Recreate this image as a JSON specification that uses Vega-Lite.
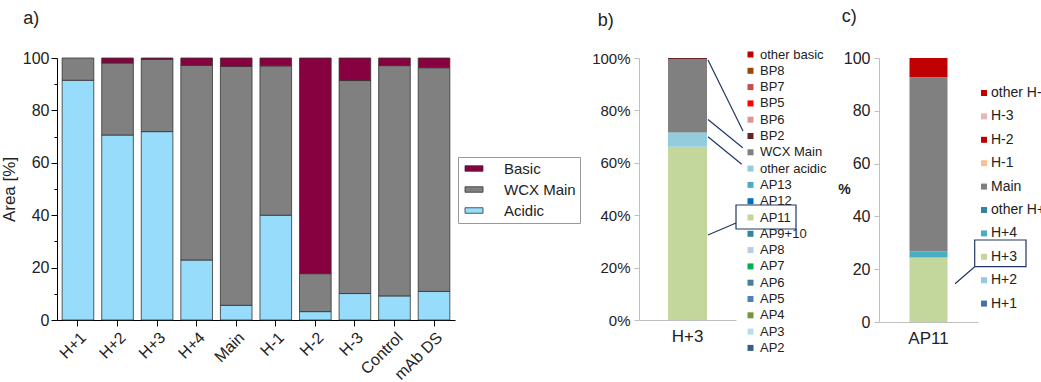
{
  "$schema": "https://vega.github.io/schema/vega-lite/v6.json",
  "padding": {"left": 0, "top": 3, "right": 0, "bottom": 0},
  "config": {
    "font": "Liberation Sans",
    "view": {"stroke": null},
    "axis": {"labelColor": "#222", "titleColor": "#222", "grid": false},
    "legend": {"labelColor": "#222"}
  },
  "datasets": {
    "a": [
      {"sample": "H+1", "component": "Acidic", "value": 91.5, "k": 1},
      {"sample": "H+1", "component": "WCX Main", "value": 8.5, "k": 2},
      {"sample": "H+2", "component": "Acidic", "value": 70.6, "k": 1},
      {"sample": "H+2", "component": "WCX Main", "value": 27.5, "k": 2},
      {"sample": "H+2", "component": "Basic", "value": 1.9, "k": 3},
      {"sample": "H+3", "component": "Acidic", "value": 71.9, "k": 1},
      {"sample": "H+3", "component": "WCX Main", "value": 27.6, "k": 2},
      {"sample": "H+3", "component": "Basic", "value": 0.5, "k": 3},
      {"sample": "H+4", "component": "Acidic", "value": 22.9, "k": 1},
      {"sample": "H+4", "component": "WCX Main", "value": 74.3, "k": 2},
      {"sample": "H+4", "component": "Basic", "value": 2.8, "k": 3},
      {"sample": "Main", "component": "Acidic", "value": 5.6, "k": 1},
      {"sample": "Main", "component": "WCX Main", "value": 91.2, "k": 2},
      {"sample": "Main", "component": "Basic", "value": 3.2, "k": 3},
      {"sample": "H-1", "component": "Acidic", "value": 40.0, "k": 1},
      {"sample": "H-1", "component": "WCX Main", "value": 57.0, "k": 2},
      {"sample": "H-1", "component": "Basic", "value": 3.0, "k": 3},
      {"sample": "H-2", "component": "Acidic", "value": 3.2, "k": 1},
      {"sample": "H-2", "component": "WCX Main", "value": 14.5, "k": 2},
      {"sample": "H-2", "component": "Basic", "value": 82.3, "k": 3},
      {"sample": "H-3", "component": "Acidic", "value": 10.1, "k": 1},
      {"sample": "H-3", "component": "WCX Main", "value": 81.3, "k": 2},
      {"sample": "H-3", "component": "Basic", "value": 8.6, "k": 3},
      {"sample": "Control", "component": "Acidic", "value": 9.2, "k": 1},
      {"sample": "Control", "component": "WCX Main", "value": 87.9, "k": 2},
      {"sample": "Control", "component": "Basic", "value": 2.9, "k": 3},
      {"sample": "mAb DS", "component": "Acidic", "value": 10.9, "k": 1},
      {"sample": "mAb DS", "component": "WCX Main", "value": 85.4, "k": 2},
      {"sample": "mAb DS", "component": "Basic", "value": 3.7, "k": 3}
    ],
    "b": [
      {"sample": "H+3", "component": "AP8", "value": 0.4, "k": 7},
      {"sample": "H+3", "component": "AP11", "value": 65.7, "k": 9},
      {"sample": "H+3", "component": "other acidic", "value": 5.5, "k": 12},
      {"sample": "H+3", "component": "WCX Main", "value": 28.0, "k": 13},
      {"sample": "H+3", "component": "BP2", "value": 0.4, "k": 14}
    ],
    "c": [
      {"sample": "AP11", "component": "H+3", "value": 24.4, "k": 3},
      {"sample": "AP11", "component": "H+4", "value": 2.3, "k": 4},
      {"sample": "AP11", "component": "Main", "value": 66.0, "k": 6},
      {"sample": "AP11", "component": "H-2", "value": 7.3, "k": 8}
    ]
  },
  "bounds": "flush",
  "spacing": 184,
  "resolve": {"scale": {"color": "independent", "y": "independent", "x": "independent", "shape": "independent"}, "legend": {"color": "independent", "shape": "independent"}},
  "hconcat": [
    {
      "title": {"text": "a)", "anchor": "start", "fontSize": 18, "fontWeight": "normal", "color": "#222", "dx": 23, "offset": 22},
      "width": 398,
      "height": 262,
      "data": {"name": "a"},
      "layer": [
        {
          "mark": {"type": "bar", "stroke": "#333", "strokeWidth": 0.8},
          "encoding": {
            "x": {
              "field": "sample", "type": "nominal",
              "sort": ["H+1", "H+2", "H+3", "H+4", "Main", "H-1", "H-2", "H-3", "Control", "mAb DS"],
              "scale": {"paddingInner": 0.2, "paddingOuter": 0.13},
              "axis": {"title": null, "labelAngle": -45, "labelFontSize": 16, "domainColor": "#000", "tickColor": "#000", "tickSize": 6, "labelPadding": 3}
            },
            "y": {
              "field": "value", "type": "quantitative", "stack": "zero",
              "scale": {"domain": [0, 100], "nice": false},
              "axis": {"title": "Area [%]", "values": [0, 20, 40, 60, 80, 100], "titleFontSize": 17, "titleFontWeight": "normal", "labelFontSize": 16, "domainColor": "#000", "tickColor": "#000", "tickSize": 6, "labelPadding": 2, "titlePadding": 4}
            },
            "color": {
              "field": "component", "type": "nominal",
              "scale": {"domain": ["Basic", "WCX Main", "Acidic"], "range": ["#870040", "#808080", "#97DDFB"]},
              "legend": {
                "title": null, "orient": "none", "legendX": 401, "legendY": 99,
                "symbolType": "M-0.75,-0.46H2.25V0.46H-0.75Z", "symbolSize": 144,
                "symbolStrokeColor": "#333", "symbolStrokeWidth": 0.8,
                "labelFontSize": 15, "labelOffset": 27, "rowPadding": 5,
                "padding": 4, "strokeColor": "#999"
              }
            },
            "order": {"field": "k"}
          }
        },
        {
          "mark": {"type": "tick", "opacity": 0},
          "encoding": {
            "y": {
              "field": "value", "type": "quantitative",
              "axis": {"orient": "left", "values": [10, 30, 50, 70, 90], "labels": false, "domain": false, "title": null, "tickColor": "#000", "tickSize": 3}
            }
          }
        }
      ],
      "resolve": {"axis": {"y": "independent"}}
    },
    {
      "bounds": "flush",
      "spacing": 143,
      "resolve": {"scale": {"color": "independent", "y": "independent", "x": "independent", "shape": "independent"}, "legend": {"color": "independent", "shape": "independent"}},
      "hconcat": [
        {
          "title": {"text": "b)", "anchor": "start", "fontSize": 18, "fontWeight": "normal", "color": "#222", "dx": 6, "offset": -26},
          "width": 97,
          "height": 262,
          "data": {"name": "b"},
          "layer": [
            {
              "mark": {"type": "bar", "width": 39},
              "encoding": {
                "x": {"field": "sample", "type": "nominal", "axis": {"title": null, "labelAngle": 0, "labelFontSize": 17, "domainColor": "#BFBFBF", "ticks": false, "labelPadding": 8}},
                "y": {
                  "field": "value", "type": "quantitative", "stack": "zero",
                  "scale": {"domain": [0, 100], "nice": false},
                  "axis": {"title": null, "values": [0, 20, 40, 60, 80, 100], "labelExpr": "datum.value + '%'", "labelFontSize": 15, "domainColor": "#BFBFBF", "tickColor": "#BFBFBF", "tickSize": 5, "labelPadding": 4}
                },
                "color": {
                  "field": "component", "type": "nominal",
                  "scale": {
                    "domain": ["other basic", "BP8", "BP7", "BP5", "BP6", "BP2", "WCX Main", "other acidic", "AP13", "AP12", "AP11", "AP9+10", "AP8", "AP7", "AP6", "AP5", "AP4", "AP3", "AP2"],
                    "range": ["#C00000", "#984807", "#C0504D", "#FF0000", "#D99694", "#632523", "#808080", "#93CDDD", "#4BACC6", "#0070C0", "#C3D69B", "#31859C", "#B9CDE5", "#00B050", "#4A7D99", "#4F81BD", "#77933C", "#B7DEE8", "#355C8E"]
                  },
                  "legend": {
                    "title": null, "orient": "none", "legendX": 105, "legendY": -10,
                    "symbolType": "square", "symbolSize": 36, "symbolStrokeWidth": 0,
                    "labelFontSize": 13, "labelOffset": 3, "rowPadding": 2.3, "padding": 0
                  }
                },
                "order": {"field": "k"}
              }
            },
            {
              "transform": [{"filter": "datum.component === 'AP11'"}],
              "mark": {"type": "point", "opacity": 0, "filled": false},
              "encoding": {
                "x": {"field": "sample", "type": "nominal"},
                "y": {"field": "value", "type": "quantitative"},
                "shape": {
                  "field": "sample", "type": "nominal",
                  "scale": {"range": ["M-4,-4.34H16V3.66H-4Z M-13.34,5.66L-4,1.66L-13.34,5.66Z M-13.34,-52.66L-1.66,-29L-13.34,-52.66Z M-13.34,-32.84L-1.76,-23.44L-13.34,-32.84Z M-13.34,-27.06L-2.1,-17.9L-13.34,-27.06Z"]},
                  "legend": {
                    "title": null, "orient": "none", "legendX": 105, "legendY": 156,
                    "symbolSize": 36, "symbolFillColor": "transparent", "symbolStrokeColor": "#1F3864", "symbolStrokeWidth": 1.2, "symbolOpacity": 1,
                    "labelExpr": "''", "labelFontSize": 1, "padding": 0
                  }
                }
              }
            }
          ]
        },
        {
          "title": {"text": "c)", "anchor": "start", "fontSize": 18, "fontWeight": "normal", "color": "#222", "dx": 4, "offset": 24},
          "width": 99,
          "height": 264,
          "data": {"name": "c"},
          "layer": [
            {
              "mark": {"type": "bar", "width": 38},
              "encoding": {
                "x": {"field": "sample", "type": "nominal", "axis": {"title": null, "labelAngle": 0, "labelFontSize": 17, "domainColor": "#BFBFBF", "ticks": false, "labelPadding": 8}},
                "y": {
                  "field": "value", "type": "quantitative", "stack": "zero",
                  "scale": {"domain": [0, 100], "nice": false},
                  "axis": {"title": "%", "titleAngle": 0, "titleX": -35, "titleY": 131, "titleAlign": "center", "titleBaseline": "middle", "titleFontSize": 14, "titleFontWeight": "bold", "values": [0, 20, 40, 60, 80, 100], "labelFontSize": 16, "domainColor": "#BFBFBF", "tickColor": "#BFBFBF", "tickSize": 5, "labelPadding": 4}
                },
                "color": {
                  "field": "component", "type": "nominal",
                  "scale": {
                    "domain": ["other H-", "H-3", "H-2", "H-1", "Main", "other H+", "H+4", "H+3", "H+2", "H+1"],
                    "range": ["#C00000", "#E6B9B8", "#C00000", "#FAC090", "#808080", "#31859C", "#4BACC6", "#C3D69B", "#93CDDD", "#4472A8"]
                  },
                  "legend": {
                    "title": null, "orient": "none", "legendX": 98, "legendY": 28,
                    "symbolType": "square", "symbolSize": 36, "symbolStrokeWidth": 0,
                    "labelFontSize": 14, "labelOffset": 0, "rowPadding": 9.4, "padding": 0
                  }
                },
                "order": {"field": "k"}
              }
            },
            {
              "transform": [{"filter": "datum.component === 'H+3'"}],
              "mark": {"type": "point", "opacity": 0, "filled": false},
              "encoding": {
                "x": {"field": "sample", "type": "nominal"},
                "y": {"field": "value", "type": "quantitative"},
                "shape": {
                  "field": "sample", "type": "nominal",
                  "scale": {"range": ["M-2.1,-5.34H15V3.56H-2.1Z M-8.66,9.24L-2.1,3.56L-8.66,9.24Z"]},
                  "legend": {
                    "title": null, "orient": "none", "legendX": 98, "legendY": 194,
                    "symbolSize": 36, "symbolFillColor": "transparent", "symbolStrokeColor": "#1F3864", "symbolStrokeWidth": 1.2, "symbolOpacity": 1,
                    "labelExpr": "''", "labelFontSize": 1, "padding": 0
                  }
                }
              }
            }
          ]
        }
      ]
    }
  ]
}
